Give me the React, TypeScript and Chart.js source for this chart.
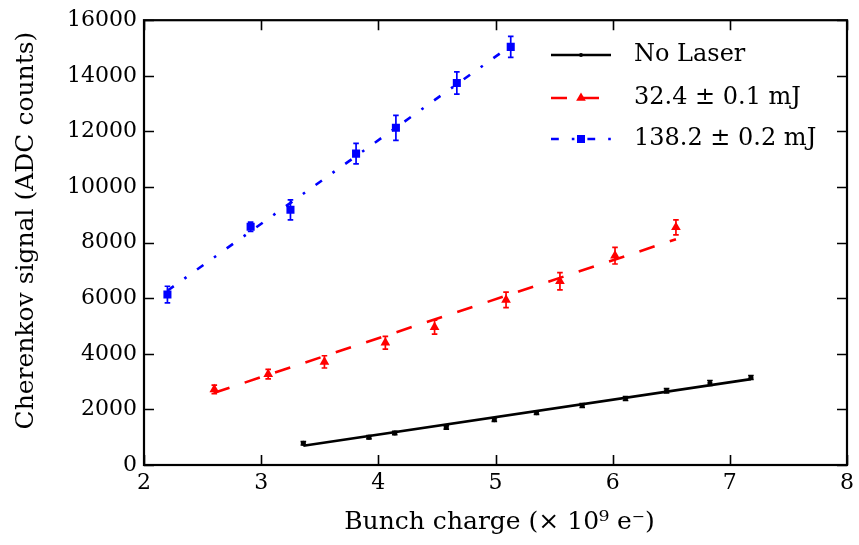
import React, { useEffect, useRef } from 'react';
import { Chart, registerables } from 'chart.js';

Chart.register(...registerables);

const FONT = '"DejaVu Serif", serif';

// Tick values
const xTickValues = [2, 3, 4, 5, 6, 7, 8];
const yTickValues = [0, 2000, 4000, 6000, 8000, 10000, 12000, 14000, 16000];

// Axis titles and series labels
const xTitle = 'Bunch charge (× 10⁹ e⁻)';
const yTitle = 'Cherenkov signal (ADC counts)';
const seriesLabels = ['No Laser', '32.4 ± 0.1 mJ', '138.2 ± 0.2 mJ'];

// No Laser
const xBlack = [3.36, 3.92, 4.14, 4.58, 4.99, 5.35, 5.74, 6.11, 6.46, 6.83, 7.18];
const yBlack = [780, 1000, 1150, 1350, 1630, 1880, 2140, 2390, 2670, 2950, 3150];
const errBlack = [60, 60, 60, 60, 60, 60, 70, 70, 80, 90, 70];

// 32.4 mJ
const xRed = [2.6, 3.06, 3.54, 4.06, 4.48, 5.09, 5.55, 6.02, 6.54];
const yRed = [2720, 3270, 3710, 4400, 4960, 5940, 6610, 7530, 8550];
const errRed = [150, 170, 220, 230, 250, 280, 310, 300, 270];

// 138.2 mJ
const xBlue = [2.2, 2.91, 3.25, 3.81, 4.15, 4.67, 5.13];
const yBlue = [6130, 8570, 9180, 11200, 12130, 13740, 15040];
const errBlue = [300, 170, 360, 370, 450, 400, 380];

// Fit line end points
const fitBlackX = [3.36, 7.18];
const fitBlackY = [690, 3090];
const fitRedX = [2.6, 6.54];
const fitRedY = [2600, 8120];
const fitBlueX = [2.2, 5.1];
const fitBlueY = [6270, 14990];

const pts = (xs: number[], ys: number[]) => xs.map((x, i) => ({ x, y: ys[i] }));

const COLORS = ['#000000', '#ff0000', '#0000ff'];
const DASHES: number[][] = [[], [16, 16], [7.8, 13, 2.6, 13]];
const STYLES = ['circle', 'triangle', 'rect'];
const RADII = [2.5, 5.6, 5.7];
const LW = 2.6;

const errorBarPlugin = {
  id: 'errorBars',
  beforeDatasetsDraw(chart: any) {
    const { ctx, scales } = chart;
    const xs = scales.x, ys = scales.y;
    const sets = [
      [xBlack, yBlack, errBlack],
      [xRed, yRed, errRed],
      [xBlue, yBlue, errBlue],
    ];
    ctx.save();
    sets.forEach((s, k) => {
      ctx.strokeStyle = COLORS[k];
      ctx.lineWidth = 1.7;
      ctx.setLineDash([]);
      const [xa, ya, ea] = s;
      xa.forEach((xv: number, i: number) => {
        const px = xs.getPixelForValue(xv);
        const top = ys.getPixelForValue(ya[i] + ea[i]);
        const bot = ys.getPixelForValue(ya[i] - ea[i]);
        ctx.beginPath();
        ctx.moveTo(px, top);
        ctx.lineTo(px, bot);
        ctx.moveTo(px - 2.8, top);
        ctx.lineTo(px + 2.8, top);
        ctx.moveTo(px - 2.8, bot);
        ctx.lineTo(px + 2.8, bot);
        ctx.stroke();
      });
    });
    ctx.restore();
  },
};

const framePlugin = {
  id: 'frame',
  afterDraw(chart: any) {
    const { ctx, chartArea: a, scales } = chart;
    ctx.save();
    ctx.setLineDash([]);
    ctx.strokeStyle = '#000';
    ctx.lineWidth = 1.6;
    const tl = 10;
    ctx.beginPath();
    xTickValues.forEach((v) => {
      const px = Math.round(scales.x.getPixelForValue(v)) + 0.5;
      ctx.moveTo(px, a.bottom);
      ctx.lineTo(px, a.bottom - tl);
      ctx.moveTo(px, a.top);
      ctx.lineTo(px, a.top + tl);
    });
    yTickValues.forEach((v) => {
      const py = Math.round(scales.y.getPixelForValue(v)) + 0.5;
      ctx.moveTo(a.left, py);
      ctx.lineTo(a.left + tl, py);
      ctx.moveTo(a.right, py);
      ctx.lineTo(a.right - tl, py);
    });
    ctx.stroke();
    ctx.lineWidth = 2.2;
    ctx.strokeRect(a.left, a.top, a.right - a.left, a.bottom - a.top);

    // axis titles
    ctx.fillStyle = '#000';
    ctx.font = `25px ${FONT}`;
    ctx.textAlign = 'center';
    ctx.textBaseline = 'middle';
    ctx.fillText(xTitle, (a.left + a.right) / 2 + 4, 522);
    ctx.save();
    ctx.translate(26, (a.top + a.bottom) / 2 - 12);
    ctx.rotate(-Math.PI / 2);
    ctx.fillText(yTitle, 0, 0);
    ctx.restore();
    ctx.restore();
  },
};

const legendPlugin = {
  id: 'customLegend',
  afterDraw(chart: any) {
    const { ctx } = chart;
    const x0 = 551, x1 = 611, tx = 634;
    const rows = [55, 98, 139];
    ctx.save();
    seriesLabels.forEach((label, k) => {
      const y = rows[k];
      ctx.strokeStyle = COLORS[k];
      ctx.lineWidth = LW;
      ctx.lineCap = 'butt';
      ctx.setLineDash(DASHES[k]);
      ctx.beginPath();
      ctx.moveTo(x0, y);
      ctx.lineTo(x1, y);
      ctx.stroke();
      ctx.setLineDash([]);
      ctx.fillStyle = COLORS[k];
      const mx = (x0 + x1) / 2;
      const r = RADII[k];
      ctx.beginPath();
      if (STYLES[k] === 'circle') {
        ctx.arc(mx, y, 2, 0, Math.PI * 2);
      } else if (STYLES[k] === 'triangle') {
        ctx.moveTo(mx, y - r);
        ctx.lineTo(mx + r * 0.866, y + r * 0.5);
        ctx.lineTo(mx - r * 0.866, y + r * 0.5);
        ctx.closePath();
      } else {
        const h = r * Math.SQRT1_2;
        ctx.rect(mx - h, y - h, 2 * h, 2 * h);
      }
      ctx.fill();
      ctx.fillStyle = '#000';
      ctx.font = `24px ${FONT}`;
      ctx.textAlign = 'left';
      ctx.textBaseline = 'middle';
      ctx.fillText(label, tx, y);
    });
    ctx.restore();
  },
};

export default function App() {
  const ref = useRef<HTMLCanvasElement>(null);
  useEffect(() => {
    const canvas = ref.current!;
    const pointSet = (k: number, xs: number[], ys: number[]) => ({
      label: seriesLabels[k],
      data: pts(xs, ys),
      showLine: false,
      pointStyle: STYLES[k],
      pointRadius: RADII[k],
      pointBackgroundColor: COLORS[k],
      pointBorderColor: COLORS[k],
      pointBorderWidth: 0,
      borderColor: COLORS[k],
      backgroundColor: COLORS[k],
    });
    const lineSet = (k: number, xs: number[], ys: number[]) => ({
      label: seriesLabels[k] + ' fit',
      data: pts(xs, ys),
      showLine: true,
      pointRadius: 0,
      borderColor: COLORS[k],
      borderWidth: LW,
      borderDash: DASHES[k],
      borderCapStyle: 'butt',
      fill: false,
      tension: 0,
    });
    const tickFont = { family: FONT, size: 22 };
    const chart = new Chart(canvas, {
      type: 'scatter',
      data: {
        datasets: [
          pointSet(0, xBlack, yBlack),
          pointSet(1, xRed, yRed),
          pointSet(2, xBlue, yBlue),
          lineSet(0, fitBlackX, fitBlackY),
          lineSet(1, fitRedX, fitRedY),
          lineSet(2, fitBlueX, fitBlueY),
        ] as any,
      },
      options: {
        animation: false,
        responsive: false,
        devicePixelRatio: 1,
        layout: { padding: { top: 19, right: 8, left: 0, bottom: 0 } },
        plugins: {
          legend: { display: false },
          tooltip: { enabled: false },
        },
        scales: {
          x: {
            type: 'linear',
            min: 2,
            max: 8,
            afterBuildTicks: (s: any) => {
              s.ticks = xTickValues.map((v) => ({ value: v }));
            },
            afterFit: (s: any) => {
              s.height = 80;
            },
            ticks: {
              font: tickFont,
              color: '#000',
              padding: 5,
              maxRotation: 0,
              autoSkip: false,
              callback: (v: any) => String(v),
            },
            grid: { display: false, drawTicks: false },
            border: { display: false },
            title: { display: false },
          },
          y: {
            type: 'linear',
            min: 0,
            max: 16000,
            afterBuildTicks: (s: any) => {
              s.ticks = yTickValues.map((v) => ({ value: v }));
            },
            afterFit: (s: any) => {
              s.width = 144;
            },
            ticks: {
              font: tickFont,
              color: '#000',
              padding: 7,
              autoSkip: false,
              callback: (v: any) => String(v),
            },
            grid: { display: false, drawTicks: false },
            border: { display: false },
            title: { display: false },
          },
        },
      } as any,
      plugins: [errorBarPlugin, framePlugin, legendPlugin],
    });
    return () => chart.destroy();
  }, []);
  return (
    <div style={{ position: 'absolute', left: 0, top: 0, width: 859, height: 545, background: '#fff' }}>
      <canvas ref={ref} width={859} height={545} style={{ display: 'block' }} />
    </div>
  );
}
